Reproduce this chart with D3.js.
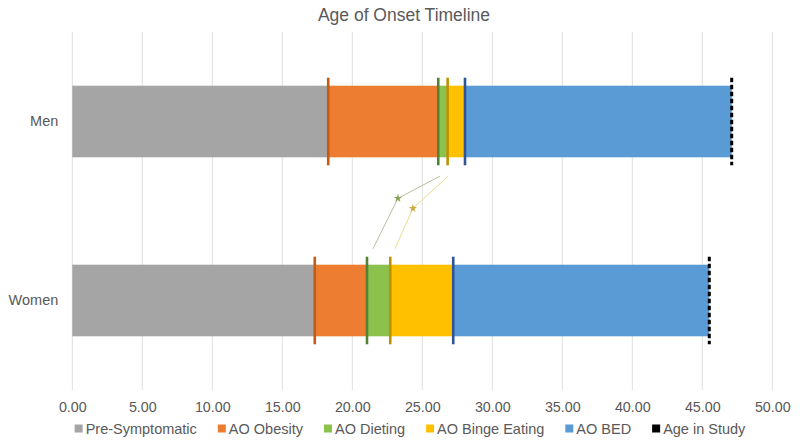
<!DOCTYPE html>
<html><head><meta charset="utf-8">
<script src="https://cdn.jsdelivr.net/npm/d3@7"></script>
<style>body{margin:0;background:#fff}svg{display:block;font-family:"Liberation Sans",Arial,sans-serif}</style>
</head><body><svg id="c" width="800" height="447"></svg>
<script>
// ---- data (ages in years) ----
const categories = ["Men", "Women"];
const aoObesity = [18.28, 17.32];
const aoDieting = [26.14, 21.05];
const aoBingeEating = [26.81, 22.71];
const aoBED = [28.05, 27.21];
const ageInStudy = [47.1, 45.5];
const xTicks = [0, 5, 10, 15, 20, 25, 30, 35, 40, 45, 50];
const legendLabels = ["Pre-Symptomatic", "AO Obesity", "AO Dieting", "AO Binge Eating", "AO BED", "Age in Study"];
// significance connectors (Men onset -> Women onset), star position along the way
const sigFrom = [26.24, 26.84];
const sigStar = [23.26, 24.33];
const sigTo = [21.48, 23.05];

const fills = ["#a5a5a5", "#ed7d31", "#8cc14c", "#ffc000", "#5b9bd5", "#000000"];
const lineColors = ["#c55a11", "#548235", "#bf9000", "#2f5597"];

const svg = d3.select("#c");
const x = d3.scaleLinear().domain([0, 50]).range([72.3, 772.3]);
const y = d3.scaleBand().domain(categories).range([32, 390]).paddingInner(0.6).paddingOuter(0.3);

// gridlines
svg.append("g").selectAll("line").data(xTicks).join("line")
  .attr("x1", d => x(d)).attr("x2", d => x(d)).attr("y1", 32).attr("y2", 390)
  .attr("stroke", "#dedede").attr("stroke-width", 1);

// x axis labels
const xAxis = d3.axisBottom(x).tickValues(xTicks).tickFormat(d3.format(".2f")).tickSize(0).tickPadding(0);
const gx = svg.append("g").attr("transform", "translate(0,402)").call(xAxis);
gx.select(".domain").remove();
gx.selectAll("text").attr("fill", "#595959").attr("font-size", "14.3px").attr("font-family", "Liberation Sans, Arial, sans-serif");

// y axis labels
const yAxis = d3.axisLeft(y).tickSize(0).tickPadding(14);
const gy = svg.append("g").attr("transform", "translate(72.3,0)").call(yAxis);
gy.select(".domain").remove();
gy.selectAll("text").attr("fill", "#595959").attr("font-size", "14.5px").attr("font-family", "Liberation Sans, Arial, sans-serif");

// stacked segments
const rows = categories.map((c, i) => {
  const b = [0, aoObesity[i], aoDieting[i], aoBingeEating[i], aoBED[i], ageInStudy[i]];
  return { c, b };
});
const segG = svg.append("g");
rows.forEach(r => {
  for (let k = 0; k < 5; k++) {
    segG.append("rect")
      .attr("x", x(r.b[k])).attr("width", x(r.b[k + 1]) - x(r.b[k]))
      .attr("y", y(r.c)).attr("height", y.bandwidth())
      .attr("fill", fills[k]);
  }
});

// onset marker lines
rows.forEach(r => {
  for (let k = 1; k <= 4; k++) {
    svg.append("line")
      .attr("x1", x(r.b[k])).attr("x2", x(r.b[k]))
      .attr("y1", y(r.c) - 8).attr("y2", y(r.c) + y.bandwidth() + 8)
      .attr("stroke", lineColors[k - 1]).attr("stroke-width", 2.6);
  }
  svg.append("line")
    .attr("x1", x(r.b[5])).attr("x2", x(r.b[5]))
    .attr("y1", y(r.c) - 8).attr("y2", y(r.c) + y.bandwidth() + 8)
    .attr("stroke", "#000").attr("stroke-width", 3).attr("stroke-dasharray", "4.5,2.5");
});

// significance connectors
const topY = y("Men") + y.bandwidth() + 19;
const botY = y("Women") - 16;
const starY = [topY + 22, topY + 32];
const connColors = ["#bdbca4", "#ecd992"];
const starColors = ["#86a552", "#cfa93c"];
for (let i = 0; i < sigFrom.length; i++) {
  svg.append("polyline")
    .attr("points", [[x(sigFrom[i]), topY], [x(sigStar[i]), starY[i]], [x(sigTo[i]), botY]].map(p => p.join(",")).join(" "))
    .attr("fill", "none").attr("stroke", connColors[i]).attr("stroke-width", 1);
  svg.append("path")
    .attr("d", d3.symbol(d3.symbolStar, 22)())
    .attr("transform", `translate(${x(sigStar[i])},${starY[i]})`)
    .attr("fill", starColors[i]);
}

// title
svg.append("text").attr("x", 404).attr("y", 21).attr("text-anchor", "middle")
  .attr("fill", "#595959").attr("font-size", "17.5px").text("Age of Onset Timeline");

// legend
const lg = svg.append("g");
let cx = 0;
legendLabels.forEach((t, i) => {
  const g = lg.append("g").attr("transform", `translate(${cx},0)`);
  g.append("rect").attr("x", 0).attr("y", -9.5).attr("width", 8).attr("height", 8).attr("fill", fills[i]);
  const tx = g.append("text").attr("x", 11).attr("y", 0).attr("fill", "#595959").attr("font-size", "14.5px").text(t);
  const w = tx.node().getComputedTextLength();
  cx += 11 + w + 21;
});
const total = cx - 21;
lg.attr("transform", `translate(${410 - total / 2},434)`);
</script></body></html>
